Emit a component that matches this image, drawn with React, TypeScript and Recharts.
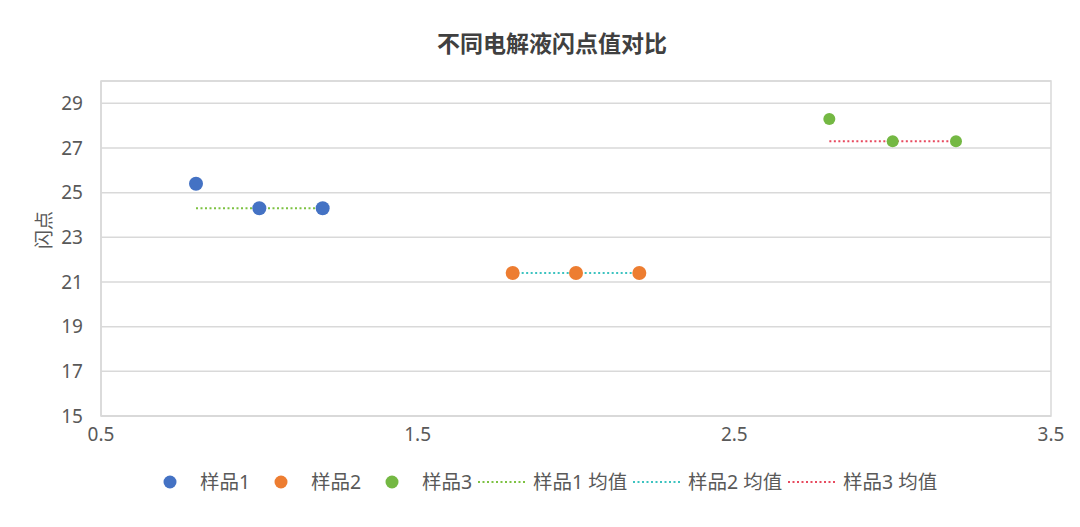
import React from "react";
import {
  ScatterChart,
  Scatter,
  XAxis,
  YAxis,
  CartesianGrid,
  ReferenceArea,
} from "recharts";

// 闪点数据 (x 位置, 闪点值)
const sample1 = [
  { x: 0.8, y: 25.4 },
  { x: 1.0, y: 24.3 },
  { x: 1.2, y: 24.3 },
];
const sample2 = [
  { x: 1.8, y: 21.4 },
  { x: 2.0, y: 21.4 },
  { x: 2.2, y: 21.4 },
];
const sample3 = [
  { x: 2.8, y: 28.3 },
  { x: 3.0, y: 27.3 },
  { x: 3.2, y: 27.3 },
];
const mean1 = [
  { x: 0.8, y: 24.3 },
  { x: 1.2, y: 24.3 },
];
const mean2 = [
  { x: 1.8, y: 21.4 },
  { x: 2.2, y: 21.4 },
];
const mean3 = [
  { x: 2.8, y: 27.3 },
  { x: 3.2, y: 27.3 },
];
const xTicks = [0.5, 1.5, 2.5, 3.5];
const yTicks = [15, 17, 19, 21, 23, 25, 27, 29];

const FONT = "'Noto Sans', 'Noto Sans CJK SC', sans-serif";
const TEXT = "#595959";
const GRID = "#d9d9d9";

const C1 = "#4472C4";
const C2 = "#ED7D31";
const C3 = "#74B843";
const M1 = "#7DC242";
const M2 = "#3CC3C0";
const M3 = "#E84A5F";

const dot = (color: string, r: number) => (p: any) =>
  <circle cx={p.cx} cy={p.cy} r={r} fill={color} />;

const none = () => <g />;

const tick = { fontSize: 19, fill: TEXT, fontFamily: FONT };

function LegendRow() {
  const items = [
    { kind: "dot", color: C1, label: "样品1", x: 164 },
    { kind: "dot", color: C2, label: "样品2", x: 275 },
    { kind: "dot", color: C3, label: "样品3", x: 386 },
    { kind: "line", color: M1, label: "样品1 均值", x: 478 },
    { kind: "line", color: M2, label: "样品2 均值", x: 633 },
    { kind: "line", color: M3, label: "样品3 均值", x: 788 },
  ];
  return (
    <svg width={1080} height={40} style={{ position: "absolute", left: 0, top: 462 }}>
      {items.map((it) => (
        <g key={it.label}>
          {it.kind === "dot" ? (
            <circle cx={it.x + 6} cy={20} r={6.5} fill={it.color} />
          ) : (
            <line
              x1={it.x}
              x2={it.x + 48}
              y1={20}
              y2={20}
              stroke={it.color}
              strokeWidth={2}
              strokeDasharray="2 2.5"
            />
          )}
          <text
            x={it.kind === "dot" ? it.x + 36 : it.x + 55}
            y={27}
            fontSize={19.5}
            fill={TEXT}
            fontFamily={FONT}
          >
            {it.label}
          </text>
        </g>
      ))}
    </svg>
  );
}

const yLabel = () => (
  <text
    x={44}
    y={230}
    transform="rotate(-90 44 230)"
    textAnchor="middle"
    dominantBaseline="central"
    fontSize={19}
    fill={TEXT}
    fontFamily={FONT}
  >
    闪点
  </text>
);

export default function App() {
  return (
    <div style={{ position: "relative", width: 1080, height: 527, background: "#fff" }}>
      <style>{`body{margin:0}`}</style>
      <div
        style={{
          position: "absolute",
          top: 27,
          left: 0,
          width: 1104,
          textAlign: "center",
          fontSize: 23,
          fontWeight: 700,
          color: "#404040",
          fontFamily: FONT,
          lineHeight: "32px",
        }}
      >
        不同电解液闪点值对比
      </div>
      <ScatterChart
        width={1080}
        height={527}
        margin={{ top: 81, right: 29, bottom: 81, left: 41 }}
      >
        <CartesianGrid horizontal vertical={false} stroke={GRID} strokeWidth={1.5} />
        <ReferenceArea
          x1={0.5}
          x2={3.5}
          y1={15}
          y2={30}
          fill="none"
          stroke={GRID}
          strokeWidth={1.5}
          ifOverflow="visible"
        />
        <XAxis
          type="number"
          dataKey="x"
          domain={[0.5, 3.5]}
          ticks={xTicks}
          tick={tick}
          tickFormatter={(v: number) => v.toFixed(1)}
          axisLine={{ stroke: GRID, strokeWidth: 1.5 }}
          tickLine={false}
          height={30}
          tickMargin={6}
          allowDataOverflow
        />
        <YAxis
          type="number"
          dataKey="y"
          domain={[15, 30]}
          ticks={yTicks}
          tick={tick}
          axisLine={{ stroke: GRID, strokeWidth: 1.5 }}
          tickLine={false}
          width={60}
          tickMargin={12}
          allowDataOverflow
          label={yLabel}
        />
        <Scatter
          name="样品1 均值"
          data={mean1}
          line={{ stroke: M1, strokeWidth: 2, strokeDasharray: "2 2.5" }}
          shape={none}
          isAnimationActive={false}
        />
        <Scatter
          name="样品2 均值"
          data={mean2}
          line={{ stroke: M2, strokeWidth: 2, strokeDasharray: "2 2.5" }}
          shape={none}
          isAnimationActive={false}
        />
        <Scatter
          name="样品3 均值"
          data={mean3}
          line={{ stroke: M3, strokeWidth: 2, strokeDasharray: "2 2.5" }}
          shape={none}
          isAnimationActive={false}
        />
        <Scatter name="样品1" data={sample1} shape={dot(C1, 7)} isAnimationActive={false} />
        <Scatter name="样品2" data={sample2} shape={dot(C2, 7)} isAnimationActive={false} />
        <Scatter name="样品3" data={sample3} shape={dot(C3, 6)} isAnimationActive={false} />
      </ScatterChart>
      <LegendRow />
    </div>
  );
}
